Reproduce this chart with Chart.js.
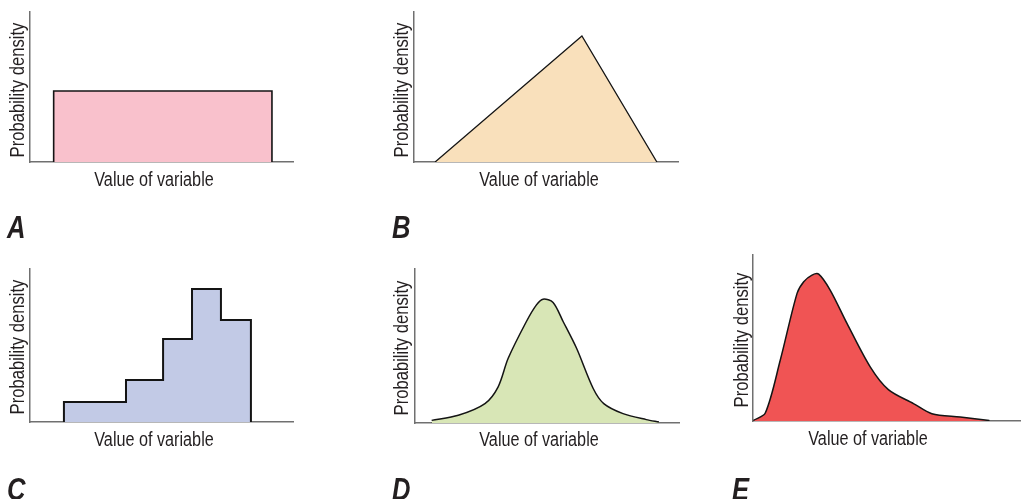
<!DOCTYPE html>
<html>
<head>
<meta charset="utf-8">
<script src="https://cdn.jsdelivr.net/npm/chart.js@4.4.1/dist/chart.umd.min.js"></script>
<style>
  html, body { margin: 0; padding: 0; background: #fff; }
  #page { position: relative; width: 1021px; height: 499px; overflow: hidden; }
  #page canvas { position: absolute; left: 0; top: 0; }
  .txt {
    position: absolute; white-space: nowrap; line-height: 1; color: #231f20;
    font-family: "Liberation Sans", Arial, sans-serif;
  }
  /* narrowed sans for the axis titles and panel letters */
  .xt { font-size: 20px; transform: translate(-50%, -50%) scaleX(0.81); }
  .yt { font-size: 20.5px; transform: translate(-50%, -50%) rotate(-90deg) scaleX(0.81); }
  .letter { font-size: 32px; font-weight: bold; font-style: italic; transform-origin: 0 0; transform: scaleX(0.8); }
</style>
</head>
<body>
<div id="page"></div>
<script>
// axis text
const xTitle = "Value of variable";
const yTitle = "Probability density";
const panelLetters = ["A", "B", "C", "D", "E"];

// A: uniform
const uniformX = [9, 9, 92, 92];
const uniformY = [0, 47.3, 47.3, 0];

// B: triangular
const triangleX = [8, 63.6, 92];
const triangleY = [0, 84, 0];

// C: histogram, bin edges and bar heights
const binEdges = [12.9, 36.5, 50.6, 61.6, 72.6, 84];
const binHeights = [13.1, 27.5, 54.2, 86.9, 66.7];

// D: normal-looking curve
const normalX = [6.3, 16.4, 26.5, 31.5, 35.3, 42.2, 46.0, 48.5, 52.3, 56.1, 61.2, 67.5, 71.5, 78.8, 87.6, 92.4];
const normalY = [1.7, 5.0, 12.6, 23.5, 42.0, 65.9, 76.7, 80.4, 78.3, 65.9, 48.5, 22.4, 12.6, 6.1, 2.2, 0.7];

// E: right-skewed curve
const skewX = [0.2, 4.6, 10.2, 16.5, 19.0, 22.1, 24.6, 28.9, 35.2, 43.9, 50.7, 60.1, 67.0, 77.6, 88.5];
const skewY = [0.4, 4.8, 36.6, 76.9, 83.9, 87.9, 88.5, 78.9, 58.8, 32.6, 18.9, 10.5, 4.4, 2.4, 0.3];

const W = 1021, H = 499;

function pts(xs, ys) {
  return xs.map((x, i) => ({ x: x, y: ys[i] }));
}

// histogram outline from edges/heights
function stepPoints(edges, heights) {
  const out = [{ x: edges[0], y: 0 }];
  heights.forEach((h, i) => {
    out.push({ x: edges[i], y: h });
    out.push({ x: edges[i + 1], y: h });
  });
  out.push({ x: edges[edges.length - 1], y: 0 });
  return out;
}

// plot box of each panel (left, top, right, bottom) and where its texts go
const panels = [
  { box: [30, 12, 293, 162], data: pts(uniformX, uniformY), fill: "#f9c1cc", tension: 0, lw: 1.6,
    yt: [16.5, 90], xt: [153.5, 179], letter: [7, 211] },
  { box: [414, 12, 678, 162], data: pts(triangleX, triangleY), fill: "#f9e0bb", tension: 0, lw: 1.3,
    yt: [400.5, 90], xt: [538.5, 179], letter: [392, 211] },
  { box: [30, 269, 293, 422], data: stepPoints(binEdges, binHeights), fill: "#c2cae6", tension: 0, lw: 2,
    yt: [16.5, 346.5], xt: [153.5, 439], letter: [7, 473] },
  { box: [415, 269, 679, 423], data: pts(normalX, normalY), fill: "#d8e6b6", tension: 0.3, lw: 1.5,
    yt: [400.5, 347.5], xt: [538.5, 439], letter: [392, 473] },
  { box: [753, 255, 1020, 421], data: pts(skewX, skewY), fill: "#f05454", tension: 0.3, lw: 1.5,
    yt: [740.5, 339.5], xt: [868, 438], letter: [732, 473] }
];

const page = document.getElementById("page");

function addText(cls, text, x, y) {
  const d = document.createElement("div");
  d.className = "txt " + cls;
  d.textContent = text;
  d.style.left = x + "px";
  d.style.top = y + "px";
  page.appendChild(d);
}

const axisStyle = {
  type: "linear",
  min: 0,
  max: 100,
  grid: { display: false, drawTicks: false },
  ticks: { display: false },
  border: { display: true, color: "#707070", width: 1.5 }
};

panels.forEach((p, i) => {
  const canvas = document.createElement("canvas");
  canvas.width = W;
  canvas.height = H;
  page.appendChild(canvas);

  const [l, t, r, b] = p.box;
  const first = p.data[0].x, last = p.data[p.data.length - 1].x;

  new Chart(canvas.getContext("2d"), {
    type: "line",
    data: {
      datasets: [
        {
          data: p.data,
          fill: "origin",
          backgroundColor: p.fill,
          borderColor: "#141414",
          borderWidth: p.lw,
          pointRadius: 0,
          tension: p.tension
        },
        {
          // closing edge along the baseline
          data: [{ x: first, y: 0 }, { x: last, y: 0 }],
          fill: false,
          borderColor: "#141414",
          borderWidth: 2,
          pointRadius: 0
        }
      ]
    },
    options: {
      responsive: false,
      animation: false,
      events: [],
      layout: { padding: { left: l, top: t, right: W - r, bottom: H - b } },
      plugins: { legend: { display: false }, tooltip: { enabled: false } },
      scales: {
        x: { ...axisStyle, position: "bottom" },
        y: { ...axisStyle, position: "left" }
      }
    }
  });

  addText("yt", yTitle, p.yt[0], p.yt[1]);
  addText("xt", xTitle, p.xt[0], p.xt[1]);
  addText("letter", panelLetters[i], p.letter[0], p.letter[1]);
});
</script>
</body>
</html>
